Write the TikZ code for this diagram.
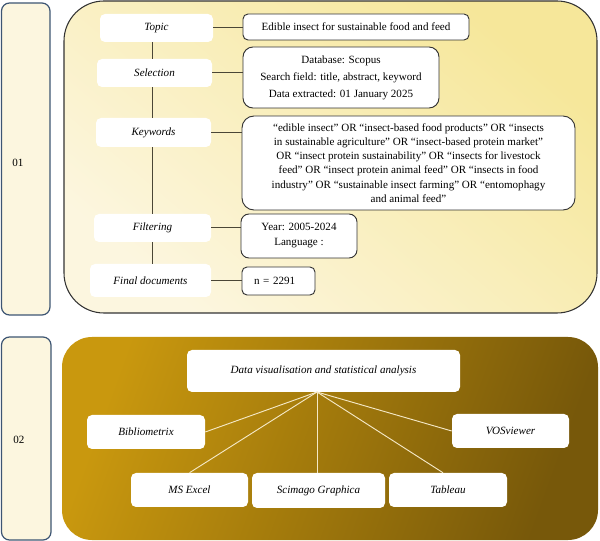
\documentclass[tikz,border=0pt]{standalone}
\usepackage{fontspec}
\setmainfont{Liberation Serif}
\newcommand{\pw}[1]{#1*0.75pt}
\definecolor{edgeDark}{HTML}{333333}
\definecolor{connDark}{HTML}{4A4636}
\definecolor{slateEdge}{HTML}{3D5573}
\definecolor{paleCream}{HTML}{FCF6DF}
\definecolor{midYellow}{HTML}{F7E9A0}
\definecolor{topYellow}{HTML}{F6E79A}
\definecolor{goldL}{HTML}{C9980E}
\definecolor{goldD}{HTML}{77580A}
\definecolor{lineCream}{HTML}{F4E8C6}
\begin{document}
\begin{tikzpicture}[x=0.75pt,y=-0.75pt,
  basefont/.style={font=\fontsize{8.3}{10.5}\selectfont},
  stagebox/.style={basefont, font=\fontsize{8.3}{10.5}\selectfont\itshape, fill=white, draw=none, rounded corners=\pw{5}, inner sep=0pt, align=center},
  valbox/.style={basefont, fill=white, draw=edgeDark, line width=0.7pt, rounded corners=\pw{7}, inner sep=0pt, align=center},
  toolbox/.style={font=\fontsize{8.3}{10.5}\selectfont\itshape, fill=white, draw=none, rounded corners=\pw{5}, inner sep=0pt, align=center},
  conn/.style={draw=connDark, line width=0.75pt},
  toolconn/.style={draw=lineCream, line width=0.7pt},
  sidebar/.style={draw=slateEdge, line width=0.9pt, rounded corners=\pw{8}, top color=paleCream, middle color=midYellow, bottom color=paleCream}
]
\useasboundingbox (0,0) rectangle (600,541);

% side bars
\draw[sidebar] (1.5,3) rectangle (50,315);
\draw[sidebar] (1.5,337) rectangle (51,540);
\node[basefont] (lab01) at (18,163) {01};
\node[basefont] (lab02) at (19,440) {02};

% panel 1
\draw[draw=edgeDark, line width=0.8pt, rounded corners=\pw{40}, top color=topYellow, bottom color=paleCream, shading angle=-40] (64,1) rectangle (597,313);

% panel 2
\path[rounded corners=\pw{30}, left color=goldL, right color=goldD, shading angle=70] (62,337) rectangle (598,540);

% stage boxes
\node[stagebox, minimum width=\pw{113}, minimum height=\pw{28}] (topic) at (156.5,28) {Topic};
\node[stagebox, minimum width=\pw{115}, minimum height=\pw{28}] (sel) at (154.5,73) {Selection};
\node[stagebox, minimum width=\pw{115}, minimum height=\pw{29}] (kw) at (153.5,132.5) {Keywords};
\node[stagebox, minimum width=\pw{117}, minimum height=\pw{28}] (filt) at (152.5,228) {Filtering};
\node[stagebox, minimum width=\pw{121}, minimum height=\pw{33}] (fin) at (150.5,280.5) {Final documents};

% value boxes
\node[valbox, rounded corners=\pw{5}, minimum width=\pw{226}, minimum height=\pw{26}] (topicv) at (356,27) {Edible insect for sustainable food and feed};
\node[valbox, rounded corners=\pw{10}, minimum width=\pw{196}, minimum height=\pw{61}, font=\fontsize{8.3}{12.75}\selectfont] (selv) at (341,77.5) {Database: Scopus\\Search field: title, abstract, keyword\\Data extracted: 01 January 2025};
\node[valbox, rounded corners=\pw{12}, minimum width=\pw{333}, minimum height=\pw{94}, font=\fontsize{8.3}{10.7}\selectfont] (kwv) at (408.5,163) {“edible insect” OR “insect-based food products” OR “insects\\in sustainable agriculture” OR “insect-based protein market”\\OR “insect protein sustainability” OR “insects for livestock\\feed” OR “insect protein animal feed” OR “insects in food\\industry” OR “sustainable insect farming” OR “entomophagy\\and animal feed”};
\node[valbox, rounded corners=\pw{8}, minimum width=\pw{116}, minimum height=\pw{44}, font=\fontsize{8.3}{11.25}\selectfont] (filtv) at (299,236) {Year: 2005-2024\\Language :};
\node[valbox, rounded corners=\pw{5}, text width=\pw{49}, inner xsep=\pw{12}, align=left, minimum height=\pw{28}] (finv) at (278.5,281) {n = 2291};

% spine
\coordinate (spine) at (152,0);
\draw[conn] (spine |- topic.south) -- (spine |- sel.north);
\draw[conn] (spine |- sel.south) -- (spine |- kw.north);
\draw[conn] (spine |- kw.south) -- (spine |- filt.north);
\draw[conn] (spine |- filt.south) -- (spine |- fin.north);

% branches
\draw[conn] (topic.east) -- (topic.east -| topicv.west);
\draw[conn] (sel.east) -- (sel.east -| selv.west);
\draw[conn] (kw.east) -- (kw.east -| kwv.west);
\draw[conn] (filt.east) -- (filt.east -| filtv.west);
\draw[conn] (fin.east) -- (fin.east -| finv.west);

% panel 2 nodes
\node[toolbox, minimum width=\pw{273}, minimum height=\pw{42}] (dv) at (323.5,371) {Data visualisation and statistical analysis};
\node[toolbox, minimum width=\pw{118}, minimum height=\pw{34}] (bib) at (146,432) {Bibliometrix};
\node[toolbox, minimum width=\pw{117}, minimum height=\pw{34}] (vos) at (510.5,431) {VOSviewer};
\node[toolbox, minimum width=\pw{117}, minimum height=\pw{34}] (exc) at (189.5,490) {MS Excel};
\node[toolbox, minimum width=\pw{133}, minimum height=\pw{35}] (sci) at (318.5,490.5) {Scimago Graphica};
\node[toolbox, minimum width=\pw{118}, minimum height=\pw{34}] (tab) at (448,490) {Tableau};

\coordinate (hub) at (317,392);
\draw[toolconn] (hub) -- (bib.east);
\draw[toolconn] (hub) -- (exc.north);
\draw[toolconn] (hub) -- (hub |- sci.north);
\draw[toolconn] (hub) -- ([xshift=\pw{-5}]tab.north);
\draw[toolconn] (hub) -- (vos.west);
\end{tikzpicture}
\end{document}
